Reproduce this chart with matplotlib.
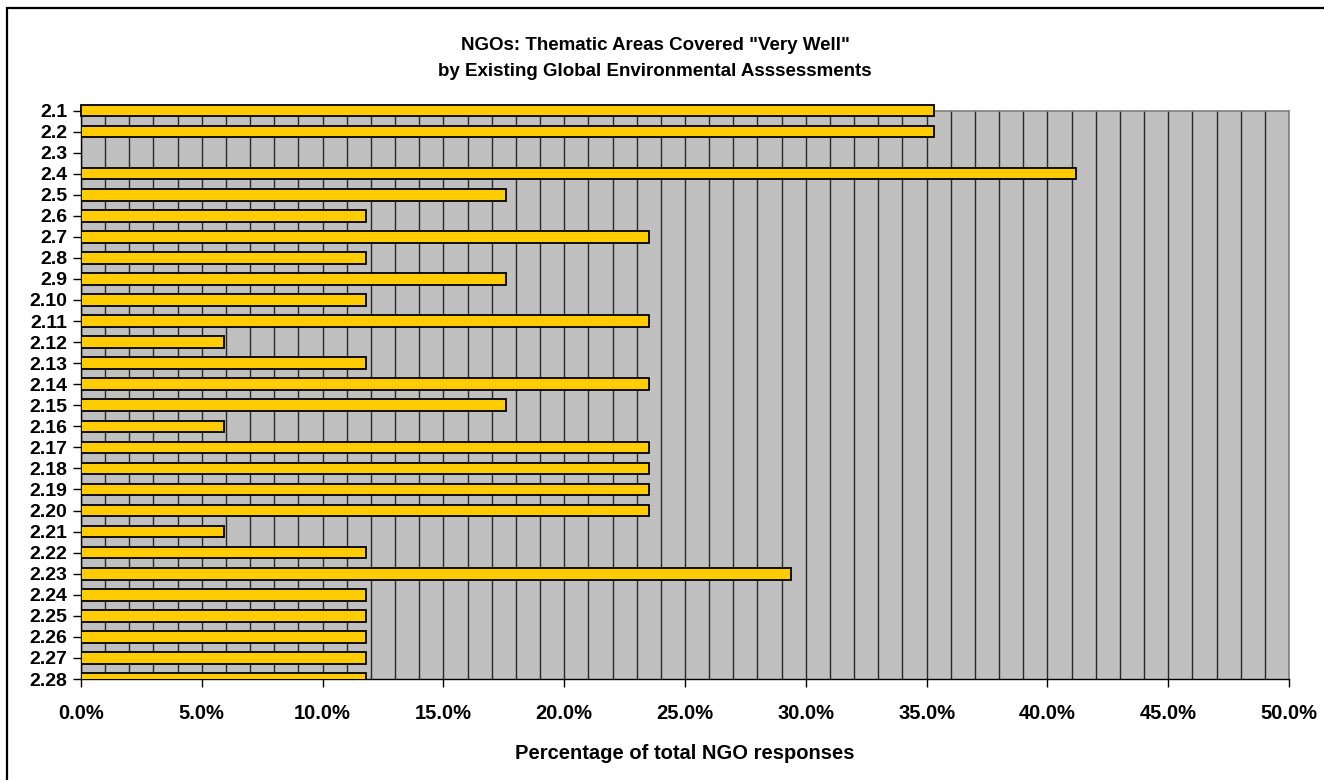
import numpy as np
import matplotlib
matplotlib.use("Agg")
import matplotlib.pyplot as plt
from matplotlib.patches import Rectangle
from matplotlib.ticker import MultipleLocator, FuncFormatter

plt.rcParams['font.family'] = ['Liberation Sans', 'DejaVu Sans']
plt.rcParams['font.weight'] = 'bold'

# thematic area codes, top to bottom
areas = ['2.1', '2.2', '2.3', '2.4', '2.5', '2.6', '2.7', '2.8', '2.9', '2.10',
         '2.11', '2.12', '2.13', '2.14', '2.15', '2.16', '2.17', '2.18', '2.19',
         '2.20', '2.21', '2.22', '2.23', '2.24', '2.25', '2.26', '2.27', '2.28']
# percentage of NGO responses rating the area "very well" covered
pct_very_well = [35.3, 35.3, 0.0, 41.2, 17.6, 11.8, 23.5, 11.8, 17.6, 11.8,
                 23.5, 5.9, 11.8, 23.5, 17.6, 5.9, 23.5, 23.5, 23.5,
                 23.5, 5.9, 11.8, 29.4, 11.8, 11.8, 11.8, 11.8, 11.8]

W, H = 1324, 780
fig = plt.figure(figsize=(W / 100, H / 100), dpi=100)
ax = fig.add_axes([81 / W, 1 - 679 / H, (1289 - 81) / W, (679 - 110.5) / H])

# outer chart border
fig.patches.append(Rectangle((7 / W, -0.05), 1.1, 1 - 8 / H + 0.05, transform=fig.transFigure,
                             fill=False, edgecolor='black', linewidth=1.6))

ax.set_facecolor('#C0C0C0')
ypos = np.arange(len(areas))
bars = ax.barh(ypos, pct_very_well, height=0.55, color='#FFCC00', edgecolor='black',
               linewidth=1.3, zorder=3)
# Excel lets the top bar overflow the plot area
bars[0].set_clip_on(False)

ax.set_xlim(0, 50)
ax.set_ylim(len(areas) - 1, 0)
ax.set_yticks(ypos)
ax.set_yticklabels(areas, fontsize=14, fontweight='bold')

ax.xaxis.set_major_locator(MultipleLocator(5))
ax.xaxis.set_minor_locator(MultipleLocator(1))
ax.xaxis.set_major_formatter(FuncFormatter(lambda v, p: f"{v:.1f}%"))
ax.tick_params(axis='x', which='major', length=6, width=1, labelsize=14.5, pad=12)
ax.tick_params(axis='x', which='minor', length=0)
ax.tick_params(axis='y', length=6, width=1, pad=4)
for lab in ax.get_xticklabels():
    lab.set_fontweight('bold')

ax.grid(True, axis='x', which='both', color='#2a2a2a', linewidth=1.0, zorder=1)
ax.set_axisbelow(True)

for side in ['top', 'right']:
    ax.spines[side].set_color('#808080')
    ax.spines[side].set_linewidth(1.2)
for side in ['left', 'bottom']:
    ax.spines[side].set_color('black')
    ax.spines[side].set_linewidth(1.0)

ax.set_xlabel('Percentage of total NGO responses', fontsize=14.5, fontweight='bold', labelpad=15)

fig.text(655 / W, 1 - 45 / H, 'NGOs: Thematic Areas Covered "Very Well"', ha='center', va='center',
         fontsize=13.5, fontweight='bold')
fig.text(655 / W, 1 - 72 / H, 'by Existing Global Environmental Asssessments', ha='center', va='center',
         fontsize=13.5, fontweight='bold')

fig.savefig('out.png', dpi=100, facecolor='white')
